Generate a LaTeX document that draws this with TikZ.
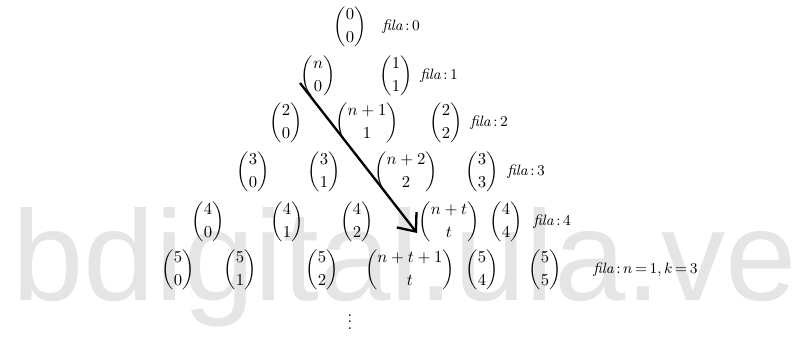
\documentclass[tikz,border=0pt]{standalone}
\usepackage{amsmath,amssymb}
\usepackage{fontspec}
\newfontfamily\wmfont{Liberation Sans}
\usepackage{tikz}
\usetikzlibrary{arrows.meta,positioning,calc}
\newcommand{\filafont}{\small\thickmuskip=3mu plus 2mu\relax}

\begin{document}
\begin{tikzpicture}[
    x=0.6pt, y=-0.6pt,
    binom/.style={inner sep=0pt},
    fila/.style={anchor=west, inner sep=0pt, font=\filafont},
    arrow/.style={line width=1.4pt, -{Straight Barb[length=9pt, width=15pt, line width=1.4pt]}},
    watermark/.style={anchor=base west, inner sep=0pt, text=black!10, font=\wmfont\fontsize{77}{77}\selectfont}
]
\useasboundingbox (0,0) rectangle (810,339);

% Watermark
\node[watermark] (wm) at (12,300) {bdigital.ula.ve};

% Row 0
\node[binom] (b00) at (350,27) {$\dbinom{0}{0}$};
\node[fila] (f0) at (382,27) {$\textit{fila}:0$};

% Row 1
\node[binom] (b10) at (318,76) {$\dbinom{n}{0}$};
\node[binom] (b11) at (396,76) {$\dbinom{1}{1}$};
\node[fila] (f1) at (420,76) {$\textit{fila}:1$};

% Row 2
\node[binom] (b20) at (286,123) {$\dbinom{2}{0}$};
\node[binom] (b21) at (367,123) {$\dbinom{n+1}{1}$};
\node[binom] (b22) at (446,123) {$\dbinom{2}{2}$};
\node[fila] (f2) at (470,123) {$\textit{fila}:2$};

% Row 3
\node[binom] (b30) at (253,172) {$\dbinom{3}{0}$};
\node[binom] (b31) at (324,172) {$\dbinom{3}{1}$};
\node[binom] (b32) at (406,172) {$\dbinom{n+2}{2}$};
\node[binom] (b33) at (482,172) {$\dbinom{3}{3}$};
\node[fila] (f3) at (507,172) {$\textit{fila}:3$};

% Row 4
\node[binom] (b40) at (208,222) {$\dbinom{4}{0}$};
\node[binom] (b41) at (287,222) {$\dbinom{4}{1}$};
\node[binom] (b42) at (357,222) {$\dbinom{4}{2}$};
\node[binom] (b43) at (449,222) {$\dbinom{n+t}{t}$};
\node[binom] (b44) at (506,222) {$\dbinom{4}{4}$};
\node[fila] (f4) at (533,222) {$\textit{fila}:4$};

% Row 5
\node[binom] (b50) at (178,270) {$\dbinom{5}{0}$};
\node[binom] (b51) at (240,270) {$\dbinom{5}{1}$};
\node[binom] (b52) at (322,270) {$\dbinom{5}{2}$};
\node[binom] (b53) at (410,270) {$\dbinom{n+t+1}{t}$};
\node[binom] (b54) at (482,270) {$\dbinom{5}{4}$};
\node[binom] (b55) at (545,270) {$\dbinom{5}{5}$};
\node[fila] (f5) at (593,270) {$\textit{fila}:n=1,k=3$};

% Dots
\node (dots) at (350,317) {$\vdots$};

% Arrow
\coordinate (from) at (300,83);
\coordinate (to) at (417,233);
\draw[arrow] (from) -- (to);

\end{tikzpicture}
\end{document}
